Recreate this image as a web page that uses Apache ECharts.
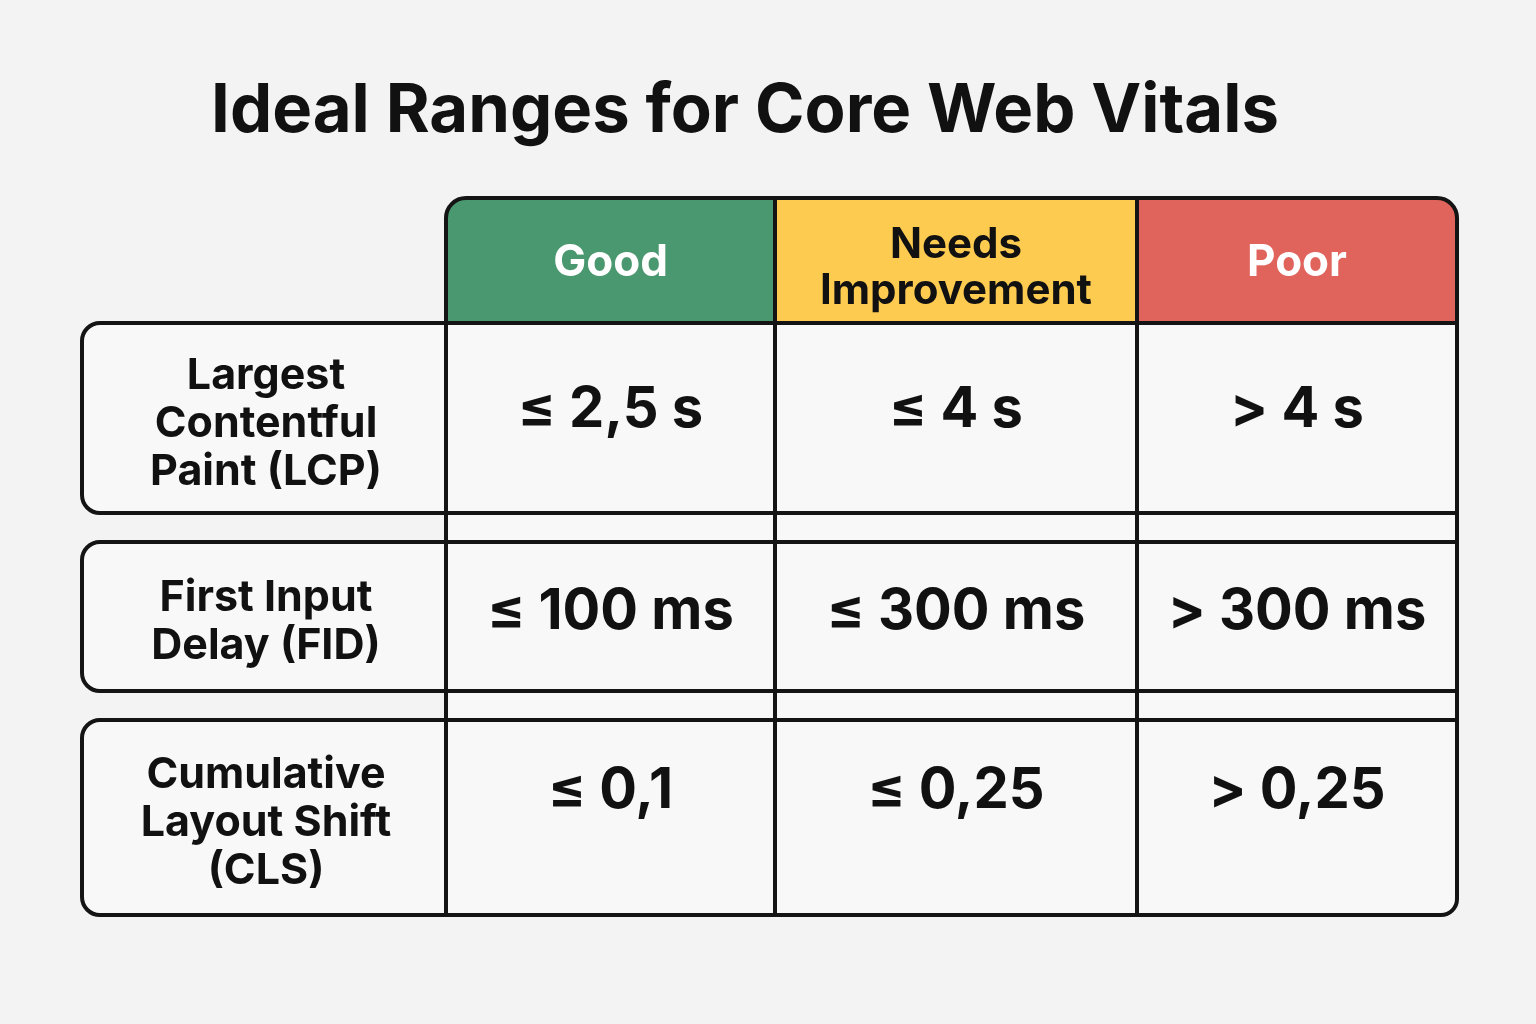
<!DOCTYPE html>
<html>
<head>
<meta charset="utf-8">
<script src="https://cdn.jsdelivr.net/npm/echarts@6/dist/echarts.min.js"></script>
<style>
  html, body { margin: 0; padding: 0; background: #f3f3f3; }
  #main { width: 1536px; height: 1024px; }
</style>
</head>
<body>
<div id="main"></div>
<script>
    // 表格数据
    var titleText = 'Ideal Ranges for Core Web Vitals';
    var metrics = ['Largest\nContentful\nPaint (LCP)', 'First Input\nDelay (FID)', 'Cumulative\nLayout Shift\n(CLS)'];
    var ratings = ['Good', 'Needs\nImprovement', 'Poor'];
    var goodValues = ['≤ 2,5 s', '≤ 100 ms', '≤ 0,1'];
    var needsValues = ['≤ 4 s', '≤ 300 ms', '≤ 0,25'];
    var poorValues = ['> 4 s', '> 300 ms', '> 0,25'];

    // 布局（像素）
    var colEdges = [82, 446, 775, 1137, 1457];
    var headerRow = [198, 323];
    var bodyRows = [[323, 513], [542, 691], [720, 915]];
    var gapRows = [[513, 542], [691, 720]];
    var valueTextY = [410, 612, 791];
    var headerColors = ['#4a986f', '#fdcb50', '#e0645b'];
    var headerTextColors = ['#ffffff', '#111111', '#ffffff'];
    var font = 'Inter, Roboto, "Noto Sans", sans-serif';

    var columns = [goodValues, needsValues, poorValues];

    // 把所有单元格组装成 custom series 的数据
    var cells = [];
    ratings.forEach(function (r, c) {
        cells.push({ value: [c + 1, headerRow[0], headerRow[1]], kind: 'header', text: r, col: c });
    });
    metrics.forEach(function (m, i) {
        cells.push({ value: [0, bodyRows[i][0], bodyRows[i][1]], kind: 'label', text: m, row: i });
        columns.forEach(function (vals, c) {
            cells.push({ value: [c + 1, bodyRows[i][0], bodyRows[i][1]], kind: 'value', text: vals[i], row: i, col: c });
        });
    });
    gapRows.forEach(function (g) {
        for (var c = 1; c <= 3; c++) {
            cells.push({ value: [c, g[0], g[1]], kind: 'gap', text: '' });
        }
    });

    function renderCell(params, api) {
        var d = cells[params.dataIndex];
        var c = api.value(0);
        var p0 = api.coord([colEdges[c], api.value(1)]);
        var p1 = api.coord([colEdges[c + 1], api.value(2)]);
        var x = p0[0], y = p0[1], w = p1[0] - p0[0], h = p1[1] - p0[1];
        var r = [0, 0, 0, 0];
        var fill = '#f8f8f8';
        if (d.kind === 'header') {
            fill = headerColors[d.col];
            if (d.col === 0) r = [20, 0, 0, 0];
            if (d.col === 2) r = [0, 20, 0, 0];
        } else if (d.kind === 'label') {
            r = [18, 0, 0, 18];
        } else if (d.kind === 'value' && d.col === 2 && d.row === 2) {
            r = [0, 0, 16, 0];
        }
        var children = [{
            type: 'rect',
            shape: { x: x, y: y, width: w, height: h, r: r },
            style: { fill: fill, stroke: '#141414', lineWidth: 4 }
        }];
        if (d.kind === 'header') {
            var multi = d.text.indexOf('\n') >= 0;
            children.push({
                type: 'text',
                style: {
                    text: d.text, x: x + w / 2, y: y + h / 2 + (multi ? 8 : 2),
                    textAlign: 'center', textVerticalAlign: 'middle',
                    fill: headerTextColors[d.col],
                    font: 'bold ' + (multi ? 42 : 44) + 'px ' + font, lineHeight: 46
                }
            });
        } else if (d.kind === 'label') {
            children.push({
                type: 'text',
                style: {
                    text: d.text, x: x + w / 2 + 2, y: y + h / 2 + 6,
                    textAlign: 'center', textVerticalAlign: 'middle',
                    fill: '#111111', font: 'bold 43px ' + font, lineHeight: 48
                }
            });
        } else if (d.kind === 'value') {
            var ty = api.coord([0, valueTextY[d.row]])[1];
            children.push({
                type: 'text',
                style: {
                    text: d.text, x: x + w / 2, y: ty,
                    textAlign: 'center', textVerticalAlign: 'middle',
                    fill: '#111111', font: 'bold 56px ' + font
                }
            });
        }
        return { type: 'group', children: children };
    }

    var myChart = echarts.init(document.getElementById('main'));
    var option = {
        backgroundColor: '#f3f3f3',
        animation: false,
        title: {
            text: titleText,
            left: 740,
            textAlign: 'center',
            top: 73,
            textStyle: { fontFamily: font, fontWeight: 'bold', fontSize: 67, color: '#111111' }
        },
        grid: { left: 0, right: 0, top: 0, bottom: 0 },
        xAxis: { type: 'value', min: 0, max: 1536, show: false },
        yAxis: { type: 'value', min: 0, max: 1024, inverse: true, show: false },
        series: [{
            type: 'custom',
            renderItem: renderCell,
            data: cells.map(function (d) { return d.value; })
        }]
    };
    myChart.setOption(option);
</script>
</body>
</html>
